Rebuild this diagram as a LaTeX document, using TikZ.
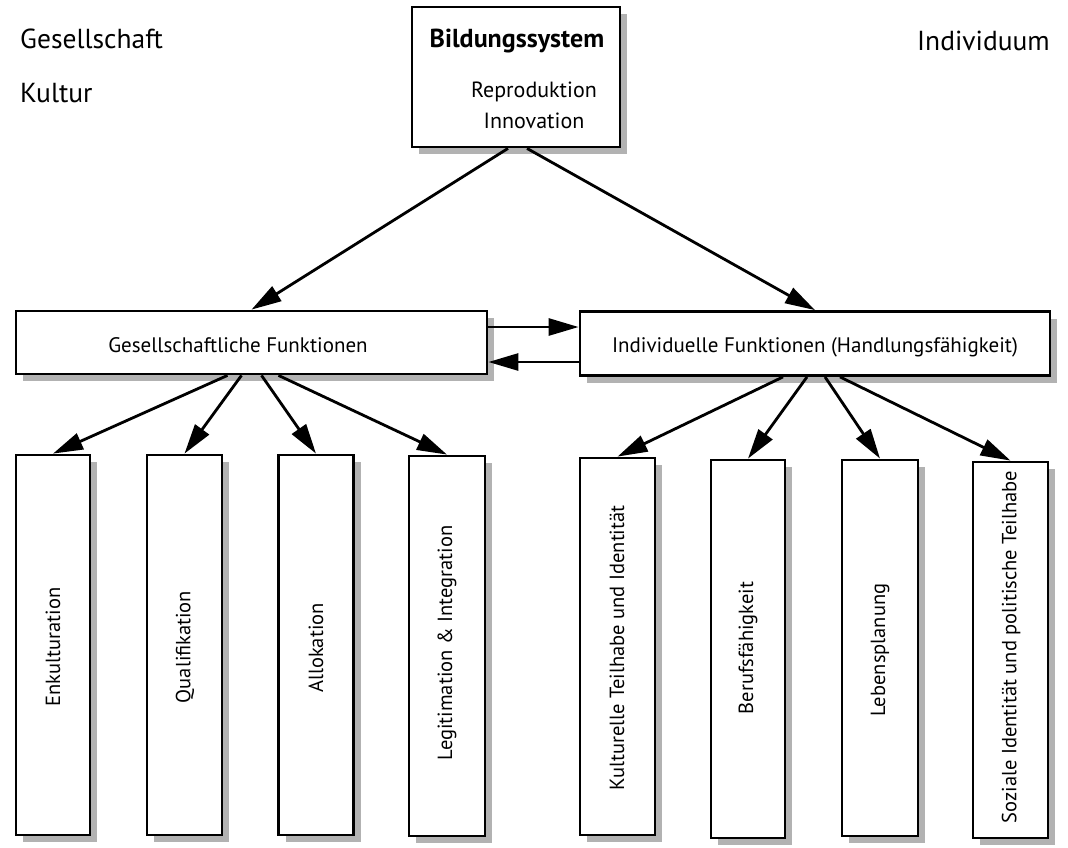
\documentclass[tikz,border=0pt]{standalone}
\usepackage{fontspec}
\setmainfont{PT Sans}
\usetikzlibrary{arrows.meta,shadows}
\begin{document}
\begin{tikzpicture}[x=1pt,y=-1pt,
  box/.style={draw=black, line width=2.8pt, fill=white, inner sep=0pt,
    drop shadow={shadow xshift=7pt, shadow yshift=-7pt, fill=gray!60, opacity=1}},
  conn/.style={line width=2.8pt, -{Triangle[length=30pt,width=17pt]}},
  big/.style={font=\fontsize{27.5}{31}\selectfont, inner sep=0pt},
  mid/.style={font=\fontsize{21}{25}\selectfont, inner sep=0pt},
  sml/.style={font=\fontsize{22}{26}\selectfont, inner sep=0pt},
  vt/.style={font=\fontsize{20.5}{24}\selectfont, inner sep=0pt, rotate=90}]
\useasboundingbox (0,0) rectangle (1068,847);

% corner labels
\node[big, anchor=base west] (ges) at (20,48) {Gesellschaft};
\node[big, anchor=base west] (kul) at (20,102) {Kultur};
\node[big, anchor=base east] (ind) at (1050,50) {Individuum};

% top box
\node[box, minimum width=208pt, minimum height=140pt] (bs) at (516,77) {};
\node[big, anchor=base, font=\fontsize{26}{30}\selectfont\bfseries] (bst) at (517,47) {Bildungssystem};
\node[sml, anchor=base] (rep) at (534,97) {Reproduktion};
\node[sml, anchor=base] (inn) at (534,128) {Innovation};

% middle boxes
\node[box, minimum width=471pt, minimum height=63pt] (gf) at (251.5,342.5) {};
\node[mid, anchor=base] (gft) at (238,352) {Gesellschaftliche Funktionen};
\node[box, minimum width=470pt, minimum height=64pt] (if) at (815,343.5) {};
\node[mid, anchor=base] (ift) at (815,352) {Individuelle Funktionen (Handlungsfähigkeit)};

% bottom boxes
\node[box, minimum width=74pt, minimum height=380pt] (enk) at (53,645) {};
\node[box, minimum width=75pt, minimum height=380pt] (qua) at (184.5,645) {};
\node[box, minimum width=75pt, minimum height=380pt] (all) at (316,645) {};
\node[box, minimum width=76pt, minimum height=380pt] (leg) at (447,646) {};
\node[box, minimum width=75pt, minimum height=377pt] (kti) at (617.5,646.5) {};
\node[box, minimum width=74pt, minimum height=378pt] (ber) at (748,649) {};
\node[box, minimum width=76pt, minimum height=376pt] (leb) at (880,648) {};
\node[box, minimum width=75pt, minimum height=376pt] (soz) at (1010.5,650) {};

\node[vt] (enkt) at (53,647) {Enkulturation};
\node[vt] (quat) at (185,647) {Qualifikation};
\node[vt] (allt) at (316,648) {Allokation};
\node[vt] (legt) at (447,643) {Legitimation \& Integration};
\node[vt] (ktit) at (617,648) {Kulturelle Teilhabe und Identität};
\node[vt] (bert) at (748,648) {Berufsfähigkeit};
\node[vt] (lebt) at (880,650) {Lebensplanung};
\node[vt] (sozt) at (1011,647) {Soziale Identität und politische Teilhabe};

% connectors
\draw[conn] ([xshift=-8pt]bs.south) -- (gf.north);
\draw[conn] ([xshift=11pt]bs.south) -- (if.north);
\draw[conn] ([yshift=15.5pt]gf.east) -- ([yshift=16.5pt]if.west);
\draw[conn] ([yshift=-18.5pt]if.west) -- ([yshift=-19.5pt]gf.east);

\draw[conn] ([xshift=-24pt]gf.south) -- (enk.north);
\draw[conn] ([xshift=-10pt]gf.south) -- (qua.north);
\draw[conn] ([xshift=10pt]gf.south) -- (all.north);
\draw[conn] ([xshift=27pt]gf.south) -- (leg.north);

\draw[conn] ([xshift=-32pt]if.south) -- (kti.north);
\draw[conn] ([xshift=-8pt]if.south) -- (ber.north);
\draw[conn] ([xshift=10pt]if.south) -- (leb.north);
\draw[conn] ([xshift=25pt]if.south) -- (soz.north);
\end{tikzpicture}
\end{document}
